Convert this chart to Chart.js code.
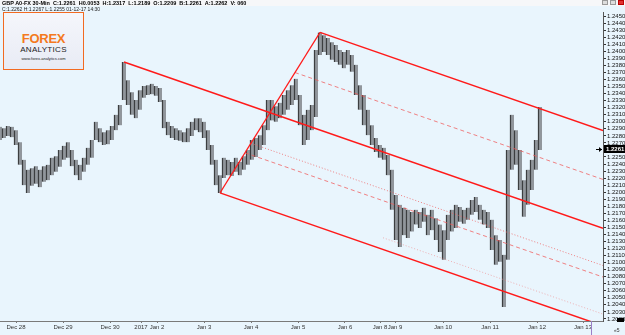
<!DOCTYPE html>
<html>
<head>
<meta charset="utf-8">
<script src="https://cdn.jsdelivr.net/npm/chart.js@4.4.1/dist/chart.umd.min.js"></script>
<style>
  html, body { margin: 0; padding: 0; }
  body { width: 625px; height: 335px; background: #e9f5fd; position: relative; overflow: hidden; font-family: 'Liberation Sans', Arial, sans-serif; }
  #chart { position: absolute; left: 0; top: 0; }
  .hdr1 { position: absolute; left: 0; top: 0; width: 625px; height: 6px; background: #f6f7f9; }
  .hdr1 span { position: absolute; left: 2px; top: 0; font-size: 5.5px; font-weight: bold; line-height: 6px; white-space: nowrap; color: #000; }
  .hdr2 { position: absolute; left: 2px; top: 6px; font-size: 5px; line-height: 6px; white-space: nowrap; color: #222; }
  .logo { position: absolute; left: 3px; top: 12px; width: 79px; height: 56px; border: 1px solid #f26a21; background: linear-gradient(#f5f6fb, #e8ebf5); text-align: center; }
  .logo .f { position: absolute; left: 0; width: 100%; top: 19px; font-size: 13px; font-weight: bold; color: #f47920; letter-spacing: -0.3px; line-height: 13px; }
  .logo .a { position: absolute; left: 0; width: 100%; top: 32px; font-size: 8px; color: #222; letter-spacing: 0.3px; line-height: 9px; }
  .logo .u { position: absolute; left: 0; width: 100%; top: 43px; font-size: 4px; color: #222; line-height: 5px; }
  .btns { position: absolute; right: 1px; top: 0; height: 6px; font-size: 0; }
  .btns i { display: inline-block; width: 6px; height: 5px; margin-left: 2px; border: 1px solid #999; box-sizing: border-box; background: #ddd; }
  .btns i.x { background: #e03030; border-color: #b00; }
  .shift { position: absolute; left: 591px; top: 321px; width: 1px; height: 14px; background: #9b80c8; }
  .scroll { position: absolute; left: 617px; top: 318px; width: 7px; height: 4px; background: #000; }
  .more { position: absolute; left: 614px; top: 327px; font-size: 5px; color: #333; }
</style>
</head>
<body>
<canvas id="chart" width="625" height="335"></canvas>
<div class="hdr1"><span>GBP A0-FX 30-Min&nbsp; C:1.2261&nbsp; H0.0053&nbsp; H:1.2317&nbsp; L:1.2189&nbsp; O:1.2209&nbsp; B:1.2261&nbsp; A:1.2262&nbsp; V: 060</span></div>
<div class="hdr2">C:1.2262 H:1.2267 L:1.2255 01-12-17 14:30</div>
<div class="logo"><div class="f">FOREX</div><div class="a">ANALYTICS</div><div class="u">www.forex-analytics.com</div></div>
<div class="btns"><i></i><i></i><i class="x"></i></div>
<div class="shift"></div>
<div class="scroll"></div>
<div class="more">«5</div>
<script>
// 30-min bars, grouped 4 bars per bucket (2 hours), x = bar index
const barsPerBucket = 4;
const priceHigh = [
  1.2293, 1.2291, 1.2294, 1.2293, 1.2288, 1.2271, 1.2246, 1.2232, 1.2234, 1.2237,
  1.2232, 1.2237, 1.2239, 1.2249, 1.2251, 1.2260, 1.2266, 1.2271, 1.2260, 1.2246,
  1.2239, 1.2249, 1.2263, 1.2274, 1.2300, 1.2291, 1.2285, 1.2288, 1.2294, 1.2310,
  1.2324, 1.2385, 1.2359, 1.2342, 1.2331, 1.2345, 1.2351, 1.2352, 1.2354, 1.2351,
  1.2348, 1.2331, 1.2300, 1.2294, 1.2291, 1.2288, 1.2285, 1.2291, 1.2300, 1.2305,
  1.2305, 1.2300, 1.2288, 1.2267, 1.2246, 1.2224, 1.2249, 1.2246, 1.2243, 1.2249,
  1.2243, 1.2251, 1.2260, 1.2274, 1.2277, 1.2281, 1.2295, 1.2331, 1.2331, 1.2322,
  1.2327, 1.2338, 1.2345, 1.2352, 1.2361, 1.2338, 1.2310, 1.2317, 1.2324, 1.2402,
  1.2427, 1.2423, 1.2419, 1.2413, 1.2409, 1.2402, 1.2399, 1.2402, 1.2395, 1.2381,
  1.2352, 1.2338, 1.2317, 1.2295, 1.2277, 1.2267, 1.2263, 1.2253, 1.2232, 1.2196,
  1.2182, 1.2178, 1.2175, 1.2172, 1.2175, 1.2172, 1.2178, 1.2168, 1.2175, 1.2163,
  1.2154, 1.2146, 1.2168, 1.2175, 1.2182, 1.2179, 1.2175, 1.2178, 1.2189, 1.2193,
  1.2182, 1.2175, 1.2172, 1.2161, 1.2139, 1.2132, 1.2111, 1.2260, 1.2310, 1.2288,
  1.2260, 1.2217, 1.2232, 1.2246, 1.2274, 1.2321
];
const priceLow = [
  1.2274, 1.2277, 1.2280, 1.2278, 1.2267, 1.2239, 1.2210, 1.2199, 1.2209, 1.2212,
  1.2207, 1.2215, 1.2217, 1.2224, 1.2229, 1.2236, 1.2246, 1.2249, 1.2237, 1.2224,
  1.2217, 1.2229, 1.2239, 1.2249, 1.2274, 1.2271, 1.2267, 1.2268, 1.2274, 1.2288,
  1.2295, 1.2331, 1.2324, 1.2310, 1.2305, 1.2317, 1.2334, 1.2338, 1.2339, 1.2337,
  1.2328, 1.2291, 1.2281, 1.2277, 1.2274, 1.2273, 1.2271, 1.2271, 1.2280, 1.2288,
  1.2285, 1.2277, 1.2260, 1.2239, 1.2210, 1.2199, 1.2220, 1.2224, 1.2223, 1.2229,
  1.2224, 1.2232, 1.2239, 1.2246, 1.2250, 1.2260, 1.2267, 1.2288, 1.2302, 1.2300,
  1.2305, 1.2310, 1.2317, 1.2324, 1.2331, 1.2295, 1.2267, 1.2274, 1.2288, 1.2307,
  1.2395, 1.2399, 1.2395, 1.2388, 1.2385, 1.2381, 1.2376, 1.2381, 1.2371, 1.2338,
  1.2317, 1.2295, 1.2281, 1.2267, 1.2257, 1.2249, 1.2246, 1.2224, 1.2175, 1.2132,
  1.2122, 1.2139, 1.2135, 1.2144, 1.2154, 1.2149, 1.2158, 1.2139, 1.2146, 1.2132,
  1.2115, 1.2104, 1.2132, 1.2144, 1.2149, 1.2158, 1.2155, 1.2161, 1.2168, 1.2172,
  1.2161, 1.2154, 1.2149, 1.2118, 1.2097, 1.2101, 1.2037, 1.2104, 1.2232, 1.2239,
  1.2203, 1.2165, 1.2182, 1.2203, 1.2232, 1.2260
];
const lastPrice = 1.2261;

// pitchfork pivots: handle start, swing high, swing low
const pivotBars = [124, 320, 220];
const pivotPrices = [1.2385, 1.2427, 1.2199];
// extra parallels (fraction of half-width, negative = towards upper line)
const forkLevels = [-0.5, 0.382, 0.5, 0.88];
const forkLevelStart = [null, null, null, 383];

const xTickBars = [16, 63, 110, 141, 157, 204, 251, 298, 345, 380, 395, 443, 490, 537, 583];
const xTickLabels = ['Dec 28', 'Dec 29', 'Dec 30', '2017', 'Jan 2', 'Jan 3', 'Jan 4', 'Jan 5', 'Jan 6', 'Jan 8', 'Jan 9', 'Jan 10', 'Jan 11', 'Jan 12', 'Jan 13'];
const yTicks = [
  1.2020, 1.2030, 1.2040, 1.2050, 1.2060, 1.2070, 1.2080, 1.2090, 1.2100, 1.2110,
  1.2120, 1.2130, 1.2140, 1.2150, 1.2160, 1.2170, 1.2180, 1.2190, 1.2200, 1.2210,
  1.2220, 1.2230, 1.2240, 1.2250, 1.2260, 1.2270, 1.2280, 1.2290, 1.2300, 1.2310,
  1.2320, 1.2330, 1.2340, 1.2350, 1.2360, 1.2370, 1.2380, 1.2390, 1.2400, 1.2410,
  1.2420, 1.2430, 1.2440, 1.2450
];
const xMax = 603;
const yMin = 1.2017, yMax = 1.2456;

const bars = priceHigh.map((h, i) => ({ x: i * barsPerBucket, y: [priceLow[i], h] }));

// andrews pitchfork
const P0 = { x: pivotBars[0], y: pivotPrices[0] };
const P1 = { x: pivotBars[1], y: pivotPrices[1] };
const P2 = { x: pivotBars[2], y: pivotPrices[2] };
const M = { x: (P1.x + P2.x) / 2, y: (P1.y + P2.y) / 2 };
const slope = (M.y - P0.y) / (M.x - P0.x);
const ray = (p) => [{ x: p.x, y: p.y }, { x: xMax, y: p.y + slope * (xMax - p.x) }];
const lerp = (a, b, t) => ({ x: a.x + (b.x - a.x) * t, y: a.y + (b.y - a.y) * t });

const RED = '#ff1a1a';
const solid = (data, w) => ({ type: 'line', data, borderColor: RED, borderWidth: w, pointRadius: 0, clip: 0, order: 1 });

const lineSets = [
  solid([P2, P1], 1.2),
  solid(ray(P0), 1.5),
  solid(ray(P1), 1.5),
  solid(ray(P2), 1.5)
];
forkLevels.forEach((f, i) => {
  let base = f < 0 ? lerp(M, P1, -f) : lerp(M, P2, f);
  if (forkLevelStart[i] != null) {
    base = { x: forkLevelStart[i], y: base.y + slope * (forkLevelStart[i] - base.x) };
  }
  const dotted = (f === 0.382 || f === 0.88);
  lineSets.push({
    type: 'line', data: ray(base), pointRadius: 0, clip: 0, order: 1,
    borderColor: f === 0.88 ? 'rgba(240,120,120,0.55)' : 'rgba(240,90,90,0.75)',
    borderWidth: 1,
    borderDash: dotted ? [1, 2] : [4, 3]
  });
});

const priceTag = {
  id: 'priceTag',
  afterDraw(chart) {
    const ctx = chart.ctx;
    const ys = chart.scales.y;
    const y = Math.round(ys.getPixelForValue(lastPrice));
    const x0 = ys.left;
    ctx.save();
    ctx.fillStyle = '#000';
    ctx.fillRect(x0 + 1, y - 4, 22, 8);
    ctx.fillStyle = '#fff';
    ctx.font = 'bold 6px "Liberation Sans"';
    ctx.textBaseline = 'middle';
    ctx.fillText(lastPrice.toFixed(4), x0 + 3, y + 0.5);
    // small arrow pointing at the axis
    ctx.strokeStyle = '#000';
    ctx.lineWidth = 1;
    ctx.beginPath();
    ctx.moveTo(x0 - 7, y + 0.5);
    ctx.lineTo(x0 - 1, y + 0.5);
    ctx.stroke();
    ctx.beginPath();
    ctx.moveTo(x0 - 1, y + 0.5);
    ctx.lineTo(x0 - 4, y - 2);
    ctx.lineTo(x0 - 4, y + 3);
    ctx.closePath();
    ctx.fillStyle = '#000';
    ctx.fill();
    ctx.restore();
  }
};

new Chart(document.getElementById('chart').getContext('2d'), {
  type: 'bar',
  data: {
    datasets: [
      {
        type: 'bar',
        data: bars,
        backgroundColor: 'rgba(135,140,145,0.9)',
        borderColor: '#1e1e1e',
        borderWidth: { left: 1, right: 0, top: 0, bottom: 0 },
        borderSkipped: false,
        barThickness: 4,
        order: 2
      },
      ...lineSets
    ]
  },
  options: {
    responsive: false,
    animation: false,
    layout: { padding: { top: 12, left: 0, right: 0, bottom: 0 } },
    plugins: { legend: { display: false }, tooltip: { enabled: false } },
    scales: {
      x: {
        type: 'linear',
        min: 0,
        max: xMax,
        offset: false,
        afterBuildTicks: (scale) => { scale.ticks = xTickBars.map(v => ({ value: v })); },
        afterFit: (scale) => { scale.height = 14; },
        grid: { offset: false, drawOnChartArea: false, tickLength: 2, color: '#777' },
        border: { color: '#7a7a7a', width: 1 },
        ticks: {
          autoSkip: false,
          maxRotation: 0,
          padding: 1,
          color: '#333',
          font: { size: 6, family: 'Liberation Sans' },
          callback: (v, i) => xTickLabels[i]
        }
      },
      y: {
        position: 'right',
        min: yMin,
        max: yMax,
        afterBuildTicks: (scale) => { scale.ticks = yTicks.map(v => ({ value: v })); },
        afterFit: (scale) => { scale.width = 22; },
        grid: { drawOnChartArea: false, tickLength: 3, color: '#333' },
        border: { color: '#555', width: 1 },
        ticks: {
          autoSkip: false,
          padding: 1,
          color: '#111',
          font: { size: 6, family: 'Liberation Sans' },
          callback: (v) => Number(v).toFixed(4)
        }
      }
    }
  },
  plugins: [priceTag]
});
</script>
</body>
</html>
